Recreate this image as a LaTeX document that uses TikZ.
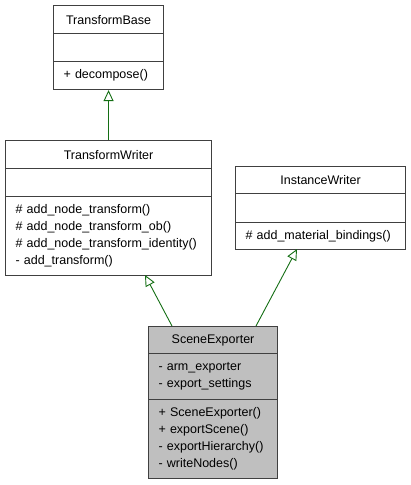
\documentclass[tikz,border=0pt]{standalone}
\usepackage{fontspec}
\setmainfont{Liberation Sans}
\usetikzlibrary{arrows.meta}
\definecolor{boxline}{RGB}{64,64,64}
\definecolor{inhgreen}{RGB}{20,110,20}
\definecolor{selgray}{RGB}{191,191,191}
\tikzset{
  cls/.style={rectangle,draw=boxline,line width=1.1pt,anchor=north west,inner sep=0pt,
    font=\fontsize{12.5}{17}\selectfont},
  members/.style={cls,align=left,inner xsep=10pt},
  inherit/.style={draw=inhgreen,line width=0.9pt,-{Triangle[open,length=11pt,width=10pt]}}
}
\begin{document}
\begin{tikzpicture}[x=1pt,y=-1pt]
            \useasboundingbox (0,0) rectangle (411,485);

            % TransformBase
            \node [cls,minimum width=110pt,minimum height=28pt] (tbName) at (53,5) {TransformBase};
            \node [cls,minimum width=110pt,minimum height=28pt] (tbAttr) at (53,33) {};
            \node [members,text width=90pt,minimum height=28pt] (tbOps) at (53,61) {+ decompose()};

            % TransformWriter
            \node [cls,minimum width=206pt,minimum height=28pt] (twName) at (5,140) {TransformWriter};
            \node [cls,minimum width=206pt,minimum height=28pt] (twAttr) at (5,168) {};
            \node [members,text width=186pt,minimum height=79pt] (twOps) at (5,196)
                {\# add\_node\_transform()\\\# add\_node\_transform\_ob()\\\# add\_node\_transform\_identity()\\- add\_transform()};

            % InstanceWriter
            \node [cls,minimum width=170pt,minimum height=27pt] (iwName) at (235,166) {InstanceWriter};
            \node [cls,minimum width=170pt,minimum height=29pt] (iwAttr) at (235,193) {};
            \node [members,text width=150pt,minimum height=27pt] (iwOps) at (235,222) {\# add\_material\_bindings()};

            % SceneExporter
            \node [cls,fill=selgray,minimum width=129pt,minimum height=27pt] (seName) at (148,326) {SceneExporter};
            \node [members,fill=selgray,text width=109pt,minimum height=46pt] (seAttr) at (148,353)
                {- arm\_exporter\\- export\_settings};
            \node [members,fill=selgray,text width=109pt,minimum height=79pt] (seOps) at (148,399)
                {+ SceneExporter()\\+ exportScene()\\- exportHierarchy()\\- writeNodes()};

            \coordinate (seLeft) at (172,326);
            \coordinate (seRight) at (256,326);
            \coordinate (twFoot) at (145,275);
            \coordinate (iwFoot) at (297,249);

            \path
            (twName.north) edge[inherit] (tbOps.south)
            (seLeft) edge[inherit] (twFoot)
            (seRight) edge[inherit] (iwFoot)
            ;

        \end{tikzpicture}
\end{document}
